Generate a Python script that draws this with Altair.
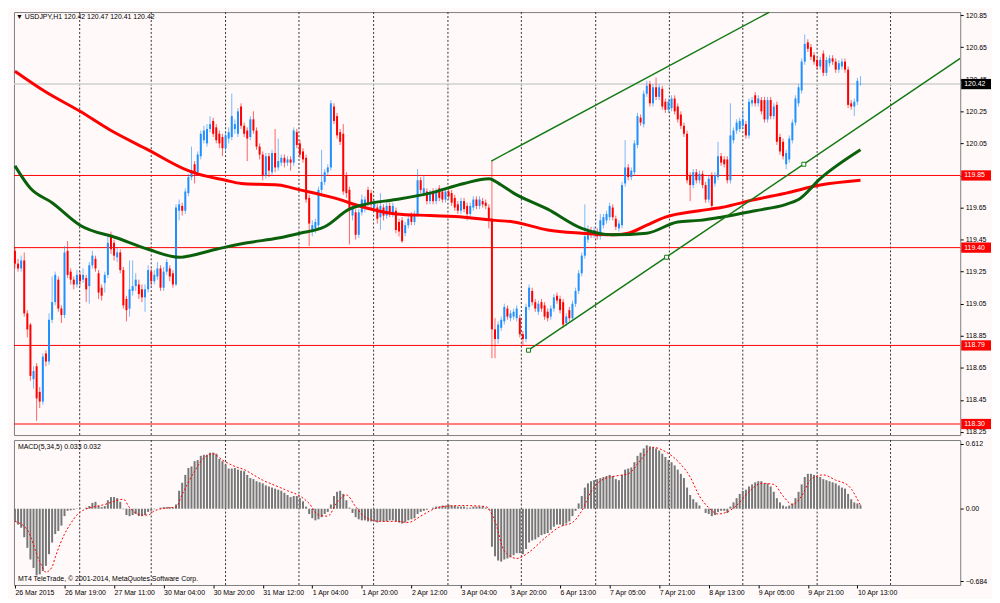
import altair as alt
import pandas as pd

# ---------------- data (hourly USDJPY bars, bar index 0 = 26 Mar 03:00) ----------------
OPEN = [
119.38,119.30,119.27,119.32,118.99,118.92,118.58,118.66,118.50,118.44,
118.74,118.69,118.95,119.06,119.20,119.02,118.98,119.38,119.25,119.20,
119.17,119.23,119.20,119.21,119.16,119.29,119.33,119.24,119.15,119.18,
119.23,119.47,119.43,119.34,119.37,119.26,119.08,119.02,119.13,119.16,
119.17,119.14,119.09,119.14,119.25,119.19,119.22,119.27,119.15,119.25,
119.27,119.24,119.17,119.63,119.66,119.63,119.74,119.84,119.92,119.87,
119.97,120.07,120.05,120.14,120.19,120.15,120.11,120.09,120.02,120.08,
120.09,120.14,120.11,120.28,120.16,120.13,120.09,120.20,120.13,120.03,
119.98,119.85,119.97,119.87,119.99,119.90,119.93,119.96,119.93,119.95,
119.93,120.12,120.05,120.00,119.96,119.71,119.50,119.52,119.54,119.76,
119.81,119.87,119.90,120.28,120.22,120.12,120.11,119.85,119.76,119.60,
119.62,119.48,119.62,119.64,119.76,119.74,119.65,119.65,119.59,119.65,
119.60,119.66,119.61,119.63,119.56,119.57,119.49,119.54,119.60,119.56,
119.61,119.82,119.74,119.75,119.69,119.75,119.69,119.77,119.75,119.70,
119.75,119.74,119.71,119.67,119.63,119.69,119.66,119.61,119.65,119.70,
119.66,119.69,119.68,119.65,119.58,118.89,118.83,118.90,118.94,119.02,
118.96,118.97,118.96,118.96,118.86,118.83,119.03,119.13,119.06,119.00,
119.06,119.04,119.00,118.97,119.02,119.10,119.08,119.06,118.93,119.01,
118.96,119.05,119.13,119.24,119.35,119.45,119.51,119.48,119.50,119.47,
119.54,119.57,119.59,119.65,119.58,119.52,119.54,119.80,119.90,119.84,
119.87,120.04,120.21,120.17,120.36,120.42,120.30,120.40,120.34,120.39,
120.31,120.26,120.27,120.33,120.28,120.23,120.16,120.11,119.85,119.79,
119.87,119.82,119.86,119.79,119.70,119.85,119.80,119.84,119.97,119.95,
119.95,119.82,120.07,120.13,120.14,120.16,120.17,120.10,120.30,120.35,
120.30,120.32,120.32,120.20,120.32,120.22,120.29,120.09,120.06,119.92,
119.95,120.07,120.18,120.30,120.38,120.56,120.68,120.65,120.60,120.57,
120.53,120.61,120.49,120.55,120.58,120.56,120.51,120.53,120.56,120.51,
120.30,120.28,120.31,120.42]
HIGH = [
119.40,119.33,119.35,119.37,119.01,118.93,118.66,118.68,118.53,118.74,
118.76,118.99,119.22,119.25,119.22,119.04,119.41,119.44,119.27,119.22,
119.26,119.25,119.27,119.23,119.31,119.38,119.35,119.26,119.17,119.25,
119.47,119.50,119.45,119.40,119.39,119.28,119.10,119.32,119.32,119.24,
119.20,119.17,119.17,119.29,119.27,119.26,119.31,119.29,119.28,119.33,
119.29,119.26,119.67,119.70,119.68,119.77,119.86,120.03,119.94,120.00,
120.13,120.16,120.17,120.22,120.21,120.17,120.13,120.11,120.12,120.15,
120.36,120.20,120.27,120.30,120.18,120.15,120.22,120.25,120.15,120.05,
120.00,119.99,119.99,120.01,120.14,120.08,119.98,119.98,119.97,119.97,
120.15,120.14,120.07,120.02,119.98,119.73,119.57,119.58,119.78,120.01,
119.89,119.92,120.32,120.30,120.24,120.14,120.17,119.87,119.78,119.68,
119.64,119.64,119.73,119.72,119.78,119.76,119.70,119.67,119.74,119.67,
119.68,119.68,119.68,119.65,119.58,119.59,119.56,119.60,119.62,119.63,
119.89,119.84,119.85,119.77,119.76,119.77,119.77,119.79,119.77,119.77,
119.77,119.76,119.73,119.69,119.71,119.71,119.68,119.68,119.72,119.72,
119.72,119.71,119.70,119.67,119.94,118.96,118.94,118.97,119.05,119.04,
119.01,119.02,119.04,118.98,118.88,119.05,119.17,119.15,119.08,119.07,
119.08,119.06,119.02,119.04,119.11,119.12,119.10,119.08,118.99,119.03,
119.07,119.15,119.26,119.37,119.67,119.54,119.53,119.53,119.52,119.61,
119.61,119.63,119.68,119.67,119.60,119.57,119.81,120.07,119.92,119.90,
120.07,120.24,120.23,120.38,120.44,120.44,120.42,120.46,120.42,120.41,
120.33,120.33,120.35,120.35,120.30,120.25,120.18,120.13,119.87,119.89,
119.89,119.88,119.88,119.81,119.85,119.87,119.87,120.06,119.99,119.97,
119.97,120.30,120.15,120.20,120.21,120.26,120.19,120.33,120.34,120.37,
120.35,120.34,120.34,120.34,120.34,120.30,120.31,120.11,120.08,120.01,
120.10,120.20,120.35,120.42,120.58,120.73,120.70,120.67,120.62,120.59,
120.59,120.63,120.59,120.60,120.60,120.58,120.57,120.58,120.58,120.53,
120.32,120.33,120.46,120.47]
LOW = [
119.27,119.25,119.25,118.97,118.84,118.57,118.52,118.32,118.40,118.42,
118.66,118.67,118.93,119.04,119.00,118.93,118.96,119.21,119.17,119.14,
119.15,119.16,119.18,119.06,119.05,119.27,119.25,119.08,119.07,119.12,
119.21,119.36,119.32,119.31,119.24,119.02,118.94,118.97,119.10,119.13,
119.08,119.06,119.00,119.12,119.16,119.17,119.20,119.13,119.13,119.23,
119.19,119.15,119.16,119.57,119.60,119.61,119.72,119.82,119.80,119.85,
119.95,120.05,120.03,120.12,120.09,120.05,120.02,119.97,119.99,120.05,
120.07,120.11,120.09,120.14,120.09,119.94,120.07,120.11,120.01,119.95,
119.82,119.83,119.84,119.85,119.87,119.88,119.91,119.90,119.91,119.88,
119.91,120.02,119.96,119.93,119.68,119.41,119.47,119.49,119.52,119.74,
119.79,119.85,119.88,120.17,120.08,120.04,119.73,119.71,119.42,119.57,
119.45,119.46,119.60,119.62,119.66,119.64,119.63,119.55,119.51,119.57,
119.58,119.59,119.59,119.49,119.47,119.43,119.47,119.52,119.54,119.54,
119.59,119.74,119.72,119.67,119.67,119.67,119.67,119.69,119.68,119.68,
119.70,119.66,119.63,119.61,119.61,119.62,119.57,119.59,119.63,119.64,
119.64,119.65,119.64,119.52,118.71,118.71,118.80,118.88,118.92,118.95,
118.94,118.95,118.94,118.84,118.79,118.81,119.01,119.04,119.00,118.98,
119.00,118.95,118.94,118.95,119.00,119.05,118.99,118.90,118.91,118.94,
118.94,119.03,119.11,119.22,119.33,119.43,119.46,119.46,119.45,119.45,
119.52,119.55,119.57,119.57,119.51,119.50,119.52,119.78,119.82,119.82,
119.85,120.02,120.16,120.15,120.34,120.28,120.28,120.32,120.32,120.26,
120.24,120.24,120.25,120.23,120.18,120.14,120.09,119.80,119.69,119.77,
119.80,119.80,119.77,119.68,119.68,119.64,119.78,119.82,119.91,119.90,
119.80,119.80,120.05,120.11,120.12,120.14,120.08,120.08,120.28,120.28,
120.28,120.23,120.18,120.18,120.20,120.20,120.04,119.98,119.95,119.89,
119.93,120.05,120.16,120.28,120.36,120.54,120.62,120.57,120.54,120.51,
120.51,120.47,120.47,120.53,120.54,120.49,120.49,120.51,120.49,120.27,
120.26,120.22,120.29,120.41]
CLOSE = [
119.30,119.27,119.32,118.99,118.89,118.60,118.63,118.46,118.44,118.72,
118.69,118.95,119.06,119.23,119.02,118.98,119.37,119.23,119.20,119.17,
119.23,119.19,119.23,119.14,119.29,119.35,119.27,119.12,119.10,119.23,
119.43,119.39,119.35,119.37,119.26,119.04,119.01,119.14,119.16,119.20,
119.11,119.09,119.14,119.26,119.19,119.23,119.27,119.15,119.25,119.31,
119.22,119.17,119.65,119.67,119.63,119.75,119.84,119.88,119.87,119.98,
120.11,120.13,120.14,120.17,120.11,120.07,120.05,120.02,120.10,120.12,
120.22,120.17,120.25,120.16,120.11,120.08,120.20,120.13,120.03,119.98,
119.85,119.97,119.88,119.99,119.90,119.94,119.96,119.93,119.95,119.93,
120.13,120.04,119.98,119.95,119.70,119.55,119.54,119.56,119.76,119.81,
119.87,119.90,120.30,120.19,120.10,120.06,119.75,119.74,119.64,119.66,
119.48,119.62,119.70,119.70,119.68,119.67,119.68,119.58,119.66,119.60,
119.66,119.61,119.66,119.51,119.50,119.44,119.54,119.58,119.56,119.61,
119.82,119.76,119.77,119.69,119.74,119.69,119.75,119.71,119.70,119.75,
119.72,119.68,119.65,119.63,119.69,119.64,119.61,119.66,119.70,119.66,
119.70,119.67,119.66,119.58,118.89,118.83,118.92,118.95,119.03,118.97,
118.99,119.00,119.02,118.86,118.83,119.03,119.15,119.06,119.02,119.05,
119.02,118.97,118.96,119.02,119.09,119.07,119.01,118.92,118.97,118.96,
119.05,119.13,119.24,119.35,119.47,119.51,119.48,119.51,119.47,119.57,
119.59,119.61,119.66,119.59,119.53,119.55,119.79,119.90,119.84,119.88,
120.05,120.22,120.18,120.36,120.41,120.30,120.40,120.34,120.40,120.28,
120.26,120.31,120.33,120.25,120.20,120.16,120.11,119.82,119.79,119.87,
119.82,119.86,119.79,119.70,119.83,119.66,119.85,119.97,119.93,119.92,
119.82,120.10,120.13,120.18,120.19,120.20,120.10,120.31,120.32,120.30,
120.33,120.25,120.20,120.32,120.22,120.28,120.06,120.00,119.97,119.99,
120.08,120.18,120.33,120.40,120.56,120.67,120.64,120.59,120.56,120.53,
120.57,120.49,120.57,120.58,120.56,120.51,120.55,120.56,120.51,120.29,
120.28,120.31,120.44,120.42]

# moving averages (bar index, price)
MA_RED_I = [0, 10, 21, 31, 43, 56, 59, 68, 73, 85, 92, 103, 113, 123, 134, 145, 155, 161, 172, 183,
            193, 198, 204, 210, 221, 228, 239, 249, 260, 273]
MA_RED_V = [120.50, 120.37, 120.25, 120.13, 120.01, 119.88, 119.86, 119.82, 119.80, 119.79, 119.76,
            119.71, 119.65, 119.61, 119.60, 119.59, 119.57, 119.56, 119.51, 119.49, 119.48, 119.49,
            119.54, 119.59, 119.63, 119.65, 119.70, 119.74, 119.79, 119.82]
MA_GRN_I = [0, 5, 12, 21, 33, 43, 53, 65, 75, 85, 92, 100, 108, 113, 123, 134, 145, 153, 157, 161,
            172, 183, 193, 204, 214, 221, 228, 239, 249, 253, 260, 273]
MA_GRN_V = [119.91, 119.77, 119.68, 119.54, 119.46, 119.39, 119.34, 119.39, 119.43, 119.46, 119.49,
            119.53, 119.64, 119.67, 119.70, 119.74, 119.80, 119.83, 119.79, 119.74, 119.64, 119.52,
            119.48, 119.49, 119.56, 119.57, 119.59, 119.63, 119.67, 119.70, 119.83, 120.01]

# MACD(5,34,5) histogram, one value per bar
MACD = [
-0.12,-0.15,-0.18,-0.27,-0.37,-0.48,-0.56,-0.63,-0.62,-0.59,
-0.54,-0.43,-0.32,-0.24,-0.21,-0.16,-0.07,-0.02,-0.015,-0.01,
0.003,0.01,0.0,0.01,0.025,0.055,0.065,0.025,0.015,0.025,
0.08,0.11,0.11,0.10,0.065,-0.005,-0.06,-0.07,-0.06,-0.05,
-0.07,-0.07,-0.06,-0.03,-0.02,-0.005,0.0,0.01,0.015,0.015,
0.015,0.01,0.04,0.17,0.245,0.32,0.385,0.40,0.45,0.46,
0.50,0.51,0.51,0.53,0.53,0.52,0.47,0.45,0.42,0.38,
0.38,0.385,0.37,0.36,0.355,0.32,0.29,0.28,0.26,
0.25,0.24,0.22,0.21,0.20,0.19,0.18,0.17,0.15,0.13,0.11,0.12,0.12,
0.10,0.07,0.02,-0.05,-0.09,-0.11,-0.10,-0.08,-0.05,-0.03,0.04,0.12,
0.16,0.17,0.14,0.08,0.01,
-0.04,-0.08,-0.10,-0.11,-0.11,-0.12,-0.12,-0.12,-0.13,-0.12,-0.12,-0.12,-0.11,-0.11,-0.12,-0.13,
-0.14,-0.13,-0.11,-0.10,-0.09,-0.05,-0.03,-0.02,-0.01,0.0,0.01,
0.02,0.02,0.03,0.03,0.04,0.03,0.03,0.02,0.02,0.02,0.01,0.01,0.02,0.02,0.02,0.02,0.01,-0.01,
-0.36,-0.45,-0.49,-0.50,-0.48,-0.47,-0.46,-0.44,-0.42,-0.42,-0.43,-0.38,-0.32,
-0.30,-0.29,-0.27,-0.25,-0.24,-0.23,-0.20,-0.17,-0.15,-0.15,-0.16,-0.14,-0.12,-0.07,-0.02,
0.05,0.12,0.20,0.24,0.26,0.27,0.28,0.29,0.30,0.31,0.32,0.31,0.28,0.27,0.32,0.37,0.38,0.39,
0.44,0.50,0.53,0.57,0.60,0.59,
0.58,0.57,0.55,0.52,0.49,0.46,0.44,0.41,0.37,0.33,0.29,0.20,0.13,0.09,0.06,
0.03,0.00,-0.04,-0.05,-0.07,-0.06,-0.03,-0.02,-0.02,-0.04,0.02,0.06,
0.10,0.14,0.17,0.18,0.21,0.23,0.25,0.26,0.26,0.24,0.24,0.21,0.16,0.10,0.06,0.03,
0.02,0.03,0.05,0.10,0.16,0.23,0.30,0.33,
0.33,0.32,0.31,0.30,0.28,0.27,0.26,0.25,0.24,0.22,0.20,0.19,0.14,0.09,0.06,0.05,0.033]
SIG_I = [0,4,8,10,12,13,16,18,20,22,25,29,32,35,37,41,43,45,50,52,54,58,61,64,67,71,74,77,80,84,
         88,92,95,98,101,104,107,110,113,118,123,127,131,134,138,145,152,155,158,162,166,171,176,
         180,183,186,190,194,198,202,206,210,214,218,221,224,227,230,233,237,241,245,248,251,254,
         257,261,265,269,273]
SIG_V = [-0.12,-0.20,-0.50,-0.60,-0.55,-0.46,-0.24,-0.14,-0.06,-0.015,0.015,0.04,0.07,0.09,0.01,
         -0.06,-0.06,-0.02,0.01,0.015,0.135,0.355,0.48,0.52,0.46,0.40,0.37,0.32,0.27,0.22,0.17,
         0.12,0.05,-0.06,-0.07,0.06,0.13,0.02,-0.08,-0.12,-0.12,-0.13,-0.07,-0.02,0.02,0.03,0.02,
         -0.12,-0.40,-0.47,-0.41,-0.28,-0.17,-0.13,-0.02,0.16,0.28,0.31,0.33,0.46,0.58,0.54,0.45,
         0.30,0.12,0.01,-0.05,-0.03,0.03,0.16,0.24,0.23,0.12,0.04,0.12,0.28,0.32,0.27,0.22,0.032]

# drawn objects
LEVELS = [119.85, 119.40, 118.79, 118.30]
BID = 120.42
TREND_LINE = ["upper", "upper", "lower", "lower"]
TREND_I = [153.8, 243.6, 165.8, 305.2]
TREND_P = [119.94, 120.869, 118.76, 120.58]
ANCHOR_I = [165.8, 210.4, 254.7]
ANCHOR_P = [118.76, 119.34, 119.92]
GRID_I = [20.9, 44.0, 68.0, 91.7, 115.8, 139.8, 163.5, 187.5, 211.3, 235.0, 259.0, 282.7]

XTICK = list(range(0, 273, 16))
XLAB = ["26 Mar 2015", "26 Mar 19:00", "27 Mar 11:00", "30 Mar 04:00", "30 Mar 20:00",
        "31 Mar 12:00", "1 Apr 04:00", "1 Apr 20:00", "2 Apr 12:00", "3 Apr 04:00",
        "3 Apr 20:00", "6 Apr 13:00", "7 Apr 05:00", "7 Apr 21:00", "8 Apr 13:00",
        "9 Apr 05:00", "9 Apr 21:00", "10 Apr 13:00"]
PTICKS = [118.25, 118.45, 118.65, 118.85, 119.05, 119.25, 119.45, 119.65, 119.85, 120.05,
          120.25, 120.45, 120.65, 120.85]
MTICKS = [0.612, 0.0, -0.684]

TITLE = "\u25bc USDJPY,H1  120.42 120.47 120.41 120.42"
MACD_TITLE = "MACD(5,34,5) 0.033 0.032"
COPYRIGHT = "MT4 TeleTrade, \u00a9 2001-2014, MetaQuotes Software Corp."

# ---------------- layout ----------------
W = 953
H_MAIN = 426
H_MACD = 146
FONT = "Liberation Sans"
BG = "#fff9f9"
GREEN_LINE = "#127a12"

xs = alt.Scale(domain=[-0.32, 305.2], nice=False, zero=False)
ys = alt.Scale(domain=[118.231, 120.869], nice=False, zero=False)
ms = alt.Scale(domain=[-0.7214, 0.6496], nice=False, zero=False)

candles = pd.DataFrame({"i": range(len(OPEN)), "o": OPEN, "h": HIGH, "l": LOW, "c": CLOSE})
candles["dir"] = ["up" if c >= o else "down" for o, c in zip(OPEN, CLOSE)]
cscale = alt.Scale(domain=["up", "down"], range=["#1e90ff", "#ff0000"])

X = alt.X("i:Q", scale=xs, axis=None)
Yaxis = alt.Axis(orient="right", values=PTICKS, format=".2f", title=None, grid=False,
                 domain=False, tickSize=3, tickColor="#000", labelPadding=2,
                 labelFont=FONT, labelFontSize=7, labelColor="#000")

grid_df = pd.DataFrame({"g": GRID_I})
grid_main = alt.Chart(grid_df).mark_rule(strokeDash=[2, 2], color="#333", strokeWidth=1).encode(
    x=alt.X("g:Q", scale=xs, axis=None))

lev_df = pd.DataFrame({"p": LEVELS})
levels = alt.Chart(lev_df).mark_rule(color="#ff0000", strokeWidth=1).encode(
    y=alt.Y("p:Q", scale=ys, axis=Yaxis))
bid = alt.Chart(pd.DataFrame({"p": [BID]})).mark_rule(color="#cfcfcf", strokeWidth=1.6).encode(
    y=alt.Y("p:Q", scale=ys, axis=Yaxis))

wick = alt.Chart(candles).mark_rule(strokeWidth=1, opacity=0.6).encode(
    x=X, y=alt.Y("l:Q", scale=ys, axis=Yaxis), y2="h:Q",
    color=alt.Color("dir:N", scale=cscale, legend=None))
body = alt.Chart(candles).mark_rule(strokeWidth=2).encode(
    x=X, y=alt.Y("o:Q", scale=ys, axis=Yaxis), y2="c:Q",
    color=alt.Color("dir:N", scale=cscale, legend=None))

ma_red = alt.Chart(pd.DataFrame({"i": MA_RED_I, "v": MA_RED_V})).mark_line(
    color="#ff0000", strokeWidth=3, interpolate="monotone").encode(
    x=X, y=alt.Y("v:Q", scale=ys, axis=Yaxis))
ma_grn = alt.Chart(pd.DataFrame({"i": MA_GRN_I, "v": MA_GRN_V})).mark_line(
    color="#0b610b", strokeWidth=3, interpolate="monotone").encode(
    x=X, y=alt.Y("v:Q", scale=ys, axis=Yaxis))

trend = alt.Chart(pd.DataFrame({"line": TREND_LINE, "i": TREND_I, "p": TREND_P})).mark_line(
    color=GREEN_LINE, strokeWidth=1.5, clip=True).encode(
    x=X, y=alt.Y("p:Q", scale=ys, axis=Yaxis), detail="line:N")
anchors = alt.Chart(pd.DataFrame({"i": ANCHOR_I, "p": ANCHOR_P})).mark_point(
    shape="square", size=16, filled=True, fill="#ffffff", stroke=GREEN_LINE, strokeWidth=1,
    opacity=1).encode(x=X, y=alt.Y("p:Q", scale=ys, axis=Yaxis))

badge_df = pd.DataFrame({"p": [BID] + LEVELS,
                         "bg": ["#000000"] + ["#ff0000"] * len(LEVELS),
                         "t": [f"{v:.2f}" for v in [BID] + LEVELS]})
badge_rect = alt.Chart(badge_df).transform_calculate(
    top="datum.p + 0.032", bot="datum.p - 0.032").mark_rect().encode(
    x=alt.value(W + 1), x2=alt.value(W + 31),
    y=alt.Y("top:Q", scale=ys, axis=Yaxis), y2="bot:Q",
    color=alt.Color("bg:N", scale=None))
badge_text = alt.Chart(badge_df).mark_text(
    align="left", baseline="middle", font=FONT, fontSize=7, color="#ffffff").encode(
    x=alt.value(W + 4), y=alt.Y("p:Q", scale=ys, axis=Yaxis), text="t:N")

title_txt = alt.Chart(pd.DataFrame({"t": [TITLE]})).mark_text(
    align="left", baseline="top", font=FONT, fontSize=7, color="#000").encode(
    x=alt.value(2), y=alt.value(1), text="t:N")

main = alt.layer(grid_main, bid, levels, wick, body, ma_red, ma_grn, trend, anchors,
                 badge_rect, badge_text, title_txt).properties(width=W, height=H_MAIN)

# ---------------- MACD panel ----------------
xlab_expr = "[" + ",".join(f"'{s}'" for s in XLAB) + "][round(datum.value / 16)]"
Xaxis = alt.Axis(orient="bottom", values=XTICK, labelExpr=xlab_expr, title=None, grid=False,
                 domain=False, tickSize=3, tickColor="#000", labelAlign="left",
                 labelBaseline="top", labelPadding=1, labelFlush=False, labelOverlap=False,
                 labelBound=False, labelFont=FONT, labelFontSize=7, labelColor="#000")
Maxis = alt.Axis(orient="right", values=MTICKS, title=None, grid=False, domain=False,
                 labelExpr="datum.value == 0 ? '0.00' : format(datum.value, '.3f')",
                 tickSize=3, tickColor="#000", labelPadding=2, labelFont=FONT,
                 labelFontSize=7, labelColor="#000")
XM = alt.X("i:Q", scale=xs, axis=Xaxis)

macd_df = pd.DataFrame({"i": range(len(MACD)), "m": MACD, "z": [0.0] * len(MACD)})
grid_macd = alt.Chart(grid_df).mark_rule(strokeDash=[2, 2], color="#333", strokeWidth=1).encode(
    x=alt.X("g:Q", scale=xs, axis=Xaxis))
hist = alt.Chart(macd_df).mark_rule(strokeWidth=2, color="#777777").encode(
    x=XM, y=alt.Y("m:Q", scale=ms, axis=Maxis), y2="z:Q")
signal = alt.Chart(pd.DataFrame({"i": SIG_I, "v": SIG_V})).mark_line(
    color="#ff0000", strokeWidth=1, strokeDash=[2, 2], interpolate="monotone").encode(
    x=XM, y=alt.Y("v:Q", scale=ms, axis=Maxis))
macd_txt = alt.Chart(pd.DataFrame({"t": [MACD_TITLE]})).mark_text(
    align="left", baseline="middle", font=FONT, fontSize=7, color="#000").encode(
    x=alt.value(4), y=alt.value(7), text="t:N")
copy_txt = alt.Chart(pd.DataFrame({"t": [COPYRIGHT]})).mark_text(
    align="left", baseline="middle", font=FONT, fontSize=7, color="#000").encode(
    x=alt.value(4), y=alt.value(140), text="t:N")

macd = alt.layer(grid_macd, hist, signal, macd_txt, copy_txt).properties(width=W, height=H_MACD)

chart = alt.vconcat(main, macd, spacing=3, padding=0, background=BG).configure_view(
    stroke="#7f7f7f", strokeWidth=1, fill=BG)

chart.save("out.html", embed_options={"renderer": "svg", "actions": False})
